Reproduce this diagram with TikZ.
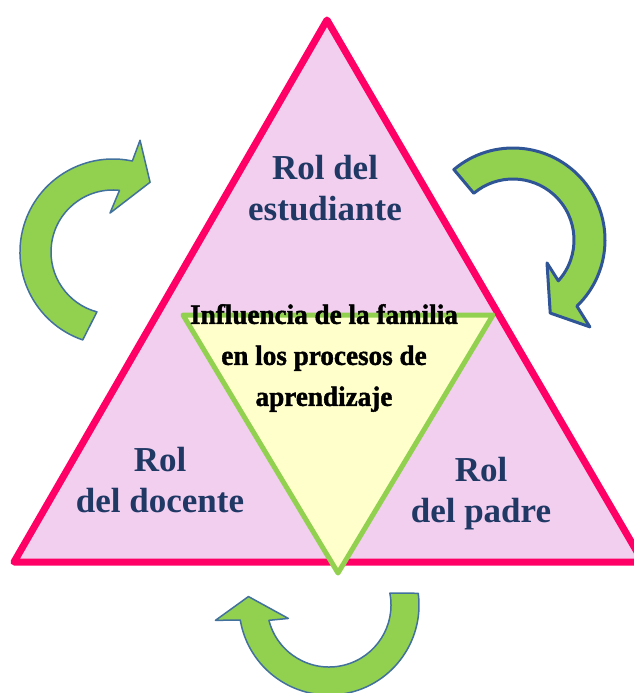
\documentclass[tikz,border=0pt]{standalone}
\usepackage{fontspec}
\setmainfont{Liberation Serif}
\newfontfamily\gruesa[BoldFeatures={FakeBold=1.4,FakeStretch=0.97}]{Liberation Serif}

\definecolor{rosa}{HTML}{F2CEEF}
\definecolor{rosaborde}{HTML}{FF0066}
\definecolor{verde}{HTML}{92D050}
\definecolor{amarillo}{HTML}{FFFFCC}
\definecolor{azultexto}{HTML}{1F3864}
\definecolor{azulborde}{HTML}{41719C}
\definecolor{azulfuerte}{HTML}{2F5597}

\begin{document}
\begin{tikzpicture}[x=1pt, y=-1pt,
    flecha/.style={fill=verde, draw=azulborde, line width=1.5pt, line join=round},
    rotulo/.style={text=azultexto, align=center, inner sep=0pt,
        font=\fontsize{35}{41}\selectfont\bfseries},
    centro/.style={text=black, align=center, inner sep=0pt,
        font=\gruesa\fontsize{28}{41}\selectfont\bfseries}]
        \useasboundingbox (0,0) rectangle (633,693);

        % triángulo grande
        \draw[draw=rosaborde, fill=rosa, line width=7pt, line join=round]
        (327,20) coordinate (A) -- (643,562) coordinate (B)
        -- (14,562) coordinate (C) -- cycle;

        % triángulo invertido
        \draw[draw=verde, fill=amarillo, line width=5pt, line join=round]
        (183,315) coordinate (D) -- (493,315) coordinate (E)
        -- (338,573) coordinate (F) -- cycle;

        % textos
        \node[rotulo] (estudiante) at (325,188) {Rol del\\estudiante};
        \node[rotulo] (docente) at (160,480) {Rol\\del docente};
        \node[rotulo] (padre) at (481,494) {Rol\\del padre};
        \node[centro] (influencia) at (324,358)
        {Influencia de la familia\\en los procesos de\\aprendizaje};

        % flecha izquierda
        \coordinate (fi) at (113,252);
        \draw[flecha] ([shift={(109:93)}]fi) arc[start angle=109, end angle=282, radius=93]
        -- ([shift={(283.6:115)}]fi) -- ([shift={(298:79)}]fi)
        -- ([shift={(265.6:39)}]fi) -- ([shift={(276:62)}]fi)
        arc[start angle=276, end angle=105, radius=62] -- cycle;

        % flecha derecha
        \coordinate (fd) at (513,240);
        \draw[flecha, draw=azulfuerte, line width=3pt]
        ([shift={(-130:92)}]fd) arc[start angle=-130, end angle=46, radius=92]
        -- ([shift={(48.5:116)}]fd) -- ([shift={(63:82)}]fd)
        -- ([shift={(34:41)}]fd) -- ([shift={(42:61)}]fd)
        arc[start angle=42, end angle=-130, radius=61] -- cycle;

        % flecha inferior
        \coordinate (fb) at (329,605);
        \draw[flecha] ([shift={(-7.5:90)}]fb) arc[start angle=-7.5, end angle=170.4, radius=90]
        -- ([shift={(172.3:114.6)}]fb) -- ([shift={(186:81)}]fb)
        -- ([shift={(161.7:42.8)}]fb) -- ([shift={(165.7:62)}]fb)
        arc[start angle=165.7, end angle=-11, radius=62] -- cycle;
    \end{tikzpicture}
\end{document}
